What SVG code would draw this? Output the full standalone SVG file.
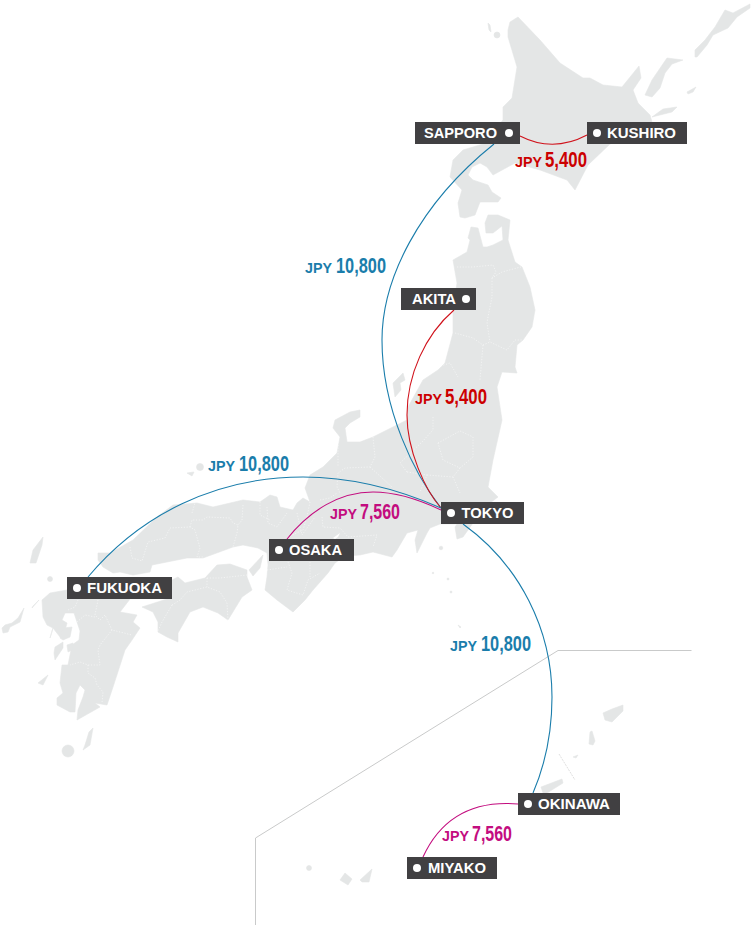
<svg xmlns="http://www.w3.org/2000/svg" width="751" height="925" viewBox="0 0 751 925">
<style>
.land{fill:#e4e6e6;stroke:#e4e6e6;stroke-width:.6;stroke-linejoin:round}
.pref{fill:none;stroke:#fff;stroke-width:.6;stroke-dasharray:1.2 1.6;opacity:.85}
.border{fill:none;stroke:#c9caca;stroke-width:1}
.con{fill:none;stroke-width:1.1}
.blue{stroke:#1a7dab}.red{stroke:#d0121b}.mag{stroke:#c30d7f}
.box{fill:#414042}
.dot{fill:#fff}
.name{fill:#fff;font:bold 14.5px "Liberation Sans",Arial,sans-serif}
.jpy{font:bold 14px "Liberation Sans",Arial,sans-serif}
.num{font:bold 22px "Liberation Sans",Arial,sans-serif}
.tb{fill:#1a7dab}.tr{fill:#cc0000}.tm{fill:#c30d7f}
</style>
<g id="map">
<path class="land" d="M508,37 L508,30 L510,22 L518,17 L540,40 L560,63 L583,78 L590,78 L603,85 L622,87 L639,66 L641,78 L633,90 L638,103 L650,115 L652,122 L640,130 L610,144 L588,165 L575,190 L567,180 L540,170 L515,163 L493,175 L487,167 L480,163 L472,167 L468,175 L473,180 L488,185 L492,192 L501,198 L498,202 L480,202 L475,215 L465,218 L460,217 L458,203 L462,190 L450,177 L453,160 L463,150 L483,144 L503,120 L503,107 L512,98 L517,67Z"/>
<path class="land" d="M471,227 L478,228 L483,247 L487,247 L493,245 L503,240 L502,226 L493,233 L486,233 L485,223 L488,215 L498,215 L510,220 L508,240 L515,262 L522,267 L530,287 L535,310 L532,327 L523,340 L517,345 L515,367 L517,373 L502,372 L497,387 L502,420 L493,460 L488,487 L498,497 L490,503 L473,523 L463,537 L457,539 L455,527 L457,524 L440,524 L430,528 L427,533 L417,553 L415,540 L418,530 L407,533 L397,550 L392,557 L373,552 L360,555 L345,556 L335,563 L328,573 L313,590 L305,600 L293,612 L277,600 L265,590 L267,577 L268,565 L267,553 L258,548 L243,545 L233,547 L203,558 L187,558 L152,565 L150,572 L133,575 L120,572 L113,573 L103,567 L98,560 L98,553 L110,553 L133,540 L157,517 L173,505 L197,503 L213,507 L243,500 L260,502 L270,495 L277,497 L280,507 L293,510 L297,503 L303,498 L310,502 L305,488 L310,475 L323,467 L337,453 L340,437 L333,428 L335,420 L350,412 L360,410 L360,417 L350,423 L345,428 L347,442 L360,442 L373,437 L407,420 L408,407 L423,380 L438,370 L445,363 L453,333 L453,310 L457,283 L453,260 L467,252 L470,240 L468,238Z"/>
<path class="land" d="M172,580 L178,577 L185,583 L205,578 L217,565 L230,564 L247,570 L247,577 L252,590 L242,597 L228,620 L218,613 L203,607 L190,612 L178,633 L178,642 L167,637 L158,632 L158,622 L153,612 L142,607 L170,598Z"/>
<path class="land" d="M42,600 L50,593 L67,590 L130,595 L130,599 L120,612 L137,615 L133,622 L140,628 L132,640 L125,650 L113,687 L107,705 L95,703 L100,707 L77,720 L78,710 L83,697 L85,690 L80,685 L76,693 L75,712 L70,712 L57,705 L57,698 L63,693 L60,683 L62,665 L68,665 L72,645 L79,640 L80,631 L74,613 L72,613 L65,613 L62,620 L67,623 L63,638 L60,637 L53,628 L50,638 L53,628 L47,625 L43,617Z"/>
<path class="land" d="M63,628 L72,627 L70,637 L63,640 L60,638Z"/>
<path class="land" d="M55,647 L63,642 L63,648 L55,660 L54,653Z M67,645 L73,643 L72,650 L68,652Z"/>
<path class="land" d="M249,570 L263,555 L260,568 L253,576Z"/>
<path class="land" d="M488,23 L490,25 L491,32 L489,30Z"/>
<circle class="land" cx="497" cy="35" r="3"/>
<path class="land" d="M645,95 L652,80 L667,58 L683,60 L672,64 L665,73 L660,88 L652,97Z"/>
<path class="land" d="M695,57 L695,50 L705,40 L715,27 L725,10 L733,13 L750,4 L750,8 L737,17 L728,28 L713,35 L707,45 L697,57Z"/>
<path class="land" d="M687,92 L696,87 L693,92 L688,94Z"/>
<path class="land" d="M652,117 L663,109 L677,107 L672,112 L660,115Z"/>
<path class="land" d="M393,383 L403,373 L405,380 L400,383 L401,390 L395,397Z"/>
<circle class="land" cx="200" cy="467" r="3.5"/>
<path class="land" d="M187,473 L194,472 L192,476Z"/>
<path class="land" d="M30,563 L33,550 L43,537 L42,545 L36,563Z"/>
<circle class="land" cx="50" cy="579" r="2.5"/>
<path class="land" d="M2,628 L5,625 L12,623 L18,618 L24,608 L20,622 L10,627 L8,632 L3,633Z M32,608 L39,600 L33,606Z"/>
<circle class="land" cx="68" cy="751" r="6"/>
<path class="land" d="M93,728 L90,745 L83,750 L85,745 L89,732Z"/>
<path class="land" d="M38,683 L48,675 L43,685Z"/>
<path class="land" d="M541,787 L562,779 L563,783 L547,793 L543,793Z"/>
<path class="land" d="M603,713 L612,709 L623,705 L623,711 L612,722 L605,720Z"/>
<path class="land" d="M590,732 L592,731 L595,741 L593,745 L589,744Z"/>
<path class="land" d="M573,757 L578,755 L576,758Z"/>
<circle class="land" cx="309" cy="868" r="2.5"/>
<path class="land" d="M340,880 L345,873 L352,879 L348,885Z M360,880 L372,869 L369,882 L362,882Z"/>
<path class="land" d="M458,625 L461,627 L460,628Z"/>
<circle class="land" cx="441" cy="548" r="1.8"/>
<circle class="land" cx="433" cy="573" r=".8"/><circle class="land" cx="448" cy="579" r="1"/><circle class="land" cx="451" cy="592" r="1"/>
<path fill="#fff" d="M333,538 L340,533 L338,537 L335,539Z"/>
<path class="pref" d="M457,267 L473,267 L493,265 L496,272 L492,278 L502,272 L517,268 L521,267 M492,278 L492,297 L488,317 L487,323 L490,342 M455,333 L473,338 L483,345 L490,342 L507,350 L515,340 L523,340 M483,345 L480,380 M438,367 L450,363 L458,377 M438,443 L460,431 L473,437 L473,457 L460,468 L443,460Z M433,417 L433,430 L422,442 L400,463 L407,472 M460,468 L453,477 L460,493 M427,475 L453,477 M407,472 L427,475 L420,492 M373,437 L375,457 L370,467 L345,468 L338,473 L337,487 L340,493 M338,442 L338,467 M370,467 L392,487 M320,500 L330,498 L337,493 M310,502 L307,517 L303,530 L288,537 M322,517 L323,527 L340,528 L348,537 L377,535 L373,547 M288,562 L292,573 L287,590 L303,595 L308,580 L320,573 M310,562 L310,577 M267,570 L287,567 M267,507 L268,523 L277,527 L287,513 M297,513 L302,535 L315,517 M130,547 L132,558 L142,561 L148,542 L165,538 L170,528 L190,527 L195,530 L200,548 L197,557 L203,557 M190,527 L192,520 L203,520 L207,517 L230,518 L233,523 L238,525 L237,533 L233,547 M243,505 L242,520 L238,525 M192,513 L195,503 M260,502 L260,515 L270,520 M172,605 L180,600 L187,592 L207,587 L220,592 L227,603 L228,620 M207,578 L220,578 L247,575 M207,578 L207,587 M172,605 L162,622 L157,633 M98,600 L95,615 L100,620 L105,615 L112,630 L132,635 M77,622 L85,615 L95,617 M112,630 L100,645 L98,650 L100,665 L88,665 L80,662 L70,665 M88,665 L88,673 L95,678 L97,685 L103,692 L102,703 M78,600 L75,607 L68,610"/>
<path class="border" d="M691.5,650.5 H558 L255.5,838 V925"/>
<path d="M559,754 L575,780" fill="none" stroke="#c9caca" stroke-width=".6" stroke-dasharray="2 1"/>
</g>
<g id="connectors">
<path class="con blue" d="M494,144 C418,205 382,280 382,340 C382,410 415,475 441,508"/>
<path class="con red" d="M454,310 C425,335 407,375 407,415 C407,450 425,490 441,508"/>
<path class="con blue" d="M88,577 C140,515 215,477 303,477 C355,477 400,490 441,508"/>
<path class="con mag" d="M287,539 C310,510 340,492 373,492 C395,492 420,500 441,510"/>
<path class="con blue" d="M463,524 C520,565 552,630 552,697 C552,730 545,765 533,793"/>
<path class="con red" d="M520,136 Q553,153 587,135"/>
<path class="con mag" d="M518,804 C470,800 440,820 423,857"/>
</g>
<g id="prices">
<text class="jpy tr" x="515" y="167" textLength="27" lengthAdjust="spacingAndGlyphs">JPY</text><text class="num tr" x="545" y="167" textLength="42" lengthAdjust="spacingAndGlyphs">5,400</text>
<text class="jpy tb" x="305" y="273" textLength="27" lengthAdjust="spacingAndGlyphs">JPY</text><text class="num tb" x="336" y="273" textLength="50" lengthAdjust="spacingAndGlyphs">10,800</text>
<text class="jpy tr" x="415" y="404" textLength="27" lengthAdjust="spacingAndGlyphs">JPY</text><text class="num tr" x="445" y="404" textLength="42" lengthAdjust="spacingAndGlyphs">5,400</text>
<text class="jpy tb" x="208" y="471" textLength="27" lengthAdjust="spacingAndGlyphs">JPY</text><text class="num tb" x="239" y="471" textLength="50" lengthAdjust="spacingAndGlyphs">10,800</text>
<text class="jpy tm" x="330" y="519" textLength="27" lengthAdjust="spacingAndGlyphs">JPY</text><text class="num tm" x="360" y="519" textLength="40" lengthAdjust="spacingAndGlyphs">7,560</text>
<text class="jpy tb" x="450" y="651" textLength="27" lengthAdjust="spacingAndGlyphs">JPY</text><text class="num tb" x="481" y="651" textLength="50" lengthAdjust="spacingAndGlyphs">10,800</text>
<text class="jpy tm" x="442" y="841" textLength="27" lengthAdjust="spacingAndGlyphs">JPY</text><text class="num tm" x="472" y="841" textLength="40" lengthAdjust="spacingAndGlyphs">7,560</text>
</g>
<g id="sapporo"><rect class="box" x="415" y="122" width="105" height="22"/><circle class="dot" cx="509" cy="133" r="4"/><text class="name" x="424" y="138" textLength="73" lengthAdjust="spacingAndGlyphs">SAPPORO</text></g>
<g id="kushiro"><rect class="box" x="587" y="122" width="100" height="22"/><circle class="dot" cx="597" cy="133" r="4"/><text class="name" x="607" y="138" textLength="69" lengthAdjust="spacingAndGlyphs">KUSHIRO</text></g>
<g id="akita"><rect class="box" x="401" y="288" width="75" height="22"/><circle class="dot" cx="466" cy="299" r="4"/><text class="name" x="412" y="304" textLength="44" lengthAdjust="spacingAndGlyphs">AKITA</text></g>
<g id="tokyo"><rect class="box" x="441" y="502" width="83" height="22"/><circle class="dot" cx="451" cy="513" r="4"/><text class="name" x="461.5" y="518" textLength="52" lengthAdjust="spacingAndGlyphs">TOKYO</text></g>
<g id="osaka"><rect class="box" x="269" y="539" width="85" height="22"/><circle class="dot" cx="279" cy="550" r="4"/><text class="name" x="289" y="555" textLength="53" lengthAdjust="spacingAndGlyphs">OSAKA</text></g>
<g id="fukuoka"><rect class="box" x="67" y="577" width="105" height="22"/><circle class="dot" cx="77" cy="588" r="4"/><text class="name" x="87" y="593" textLength="75" lengthAdjust="spacingAndGlyphs">FUKUOKA</text></g>
<g id="okinawa"><rect class="box" x="518" y="793" width="102" height="22"/><circle class="dot" cx="528" cy="804" r="4"/><text class="name" x="538" y="809" textLength="72" lengthAdjust="spacingAndGlyphs">OKINAWA</text></g>
<g id="miyako"><rect class="box" x="407" y="857" width="90" height="22"/><circle class="dot" cx="417" cy="868" r="4"/><text class="name" x="428" y="873" textLength="58" lengthAdjust="spacingAndGlyphs">MIYAKO</text></g>
</svg>
